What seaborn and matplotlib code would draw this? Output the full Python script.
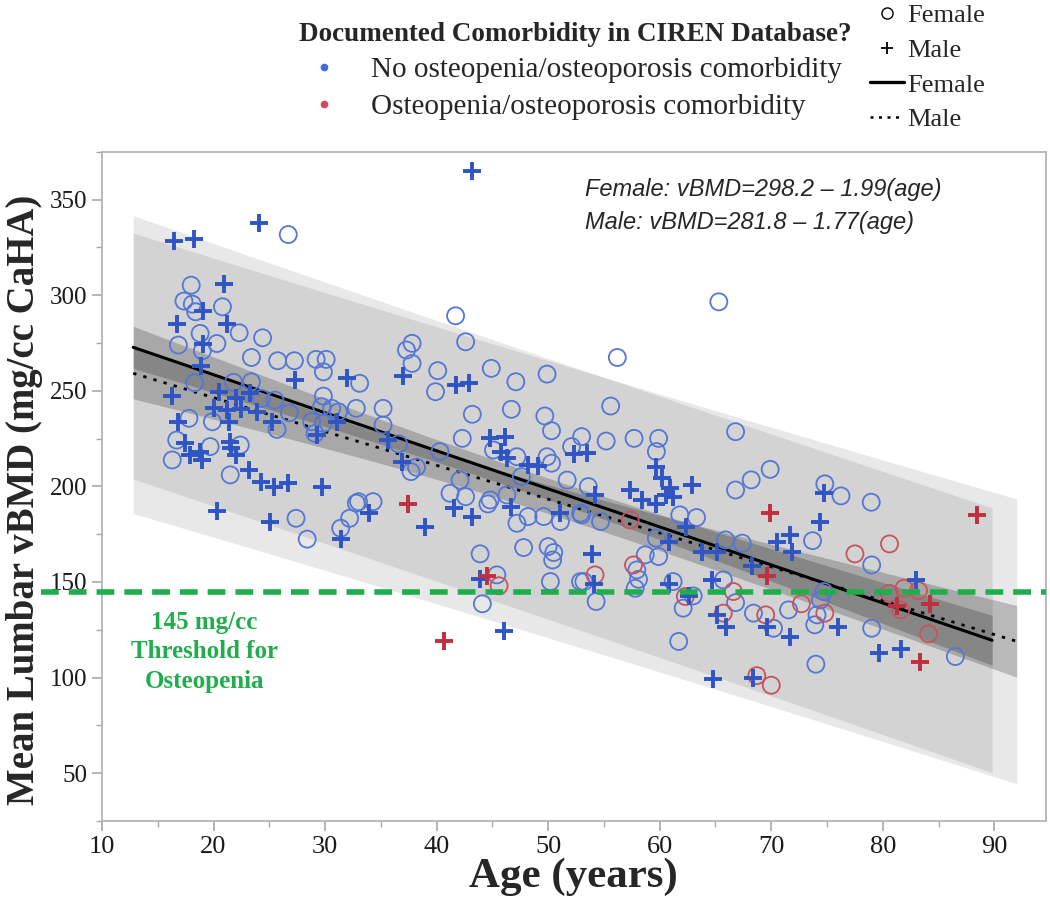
import numpy as np
import pandas as pd
import matplotlib
matplotlib.use("Agg")
import matplotlib.pyplot as plt
import seaborn as sns
from matplotlib.lines import Line2D
from matplotlib.ticker import MultipleLocator

# ---- data ----------------------------------------------------------------
# female, no osteopenia comorbidity (blue circles)
fem_no_age = [26.7, 18.0, 17.35, 18.1, 18.4, 20.8, 22.3, 24.4, 18.8, 16.85, 20.3, 19.0, 23.4, 25.75,
              27.25, 29.2, 30.1, 29.85, 18.3, 21.8, 23.4, 29.85, 33.1,
              17.8, 19.9, 26.8, 25.7, 24.3, 25.5, 29.7, 30.6, 31.2, 28.8, 29.85, 29.1, 22.4, 16.7,
              16.3, 19.7, 21.5, 32.8, 27.4, 28.4, 32.2, 31.4,
              41.7, 42.6, 37.8, 37.3, 37.8, 40.1, 39.9, 44.9, 47.1, 49.9,
              35.2, 32.8, 43.2, 46.7, 49.7, 50.3, 35.2, 36.6, 42.3, 45.1, 47.2, 49.9, 50.3, 52.1,
              40.3, 37.7, 38.2, 42.1, 41.2, 42.6, 44.8, 44.6, 46.3, 47.6, 47.2, 48.2, 49.6, 51.1,
              51.7, 52.9, 33.0, 34.3, 43.9, 47.8, 50.0, 50.5, 50.4, 45.4, 50.2, 52.9, 44.1,
              65.3, 56.2,
              55.6, 53.0, 55.2, 57.7, 59.9, 59.7, 66.8, 69.9, 68.2, 66.8, 53.6, 53.0, 54.7, 61.8,
              63.3, 59.7, 65.9, 67.4, 58.7, 59.9, 57.95, 58.1, 57.8, 53.2, 54.3, 61.2, 65.7, 63.0,
              62.1, 66.8, 68.4, 70.2, 71.55, 61.7,
              74.8, 76.25, 78.96, 73.7, 79.0, 74.7, 74.4, 74.1, 73.9, 79.0, 74.0, 86.5]
fem_no_bmd = [331.7, 305.2, 296.9, 295.3, 291.3, 293.9, 280.3, 277.7, 280.0, 273.9, 274.7, 270.9, 267.4, 265.7,
              265.7, 266.4, 266.4, 259.9, 254.2, 254.4, 254.7, 247.2, 253.9,
              235.6, 233.8, 238.5, 229.8, 246.0, 245.1, 241.7, 240.8, 239.0, 233.8, 233.0, 227.7, 221.6, 224.2,
              213.8, 220.8, 206.0, 191.2, 183.3, 172.4, 183.3, 178.1,
              289.2, 275.6, 274.8, 271.3, 264.3, 260.5, 249.5, 261.7, 254.7, 258.7,
              240.8, 240.8, 237.7, 240.3, 236.8, 229.1, 232.1, 222.2, 225.1, 219.0, 215.5, 215.5, 212.1, 220.8,
              218.2, 207.7, 210.0, 203.3, 196.4, 194.6, 192.9, 190.8, 195.5, 205.1, 180.7, 184.2, 184.2, 181.6,
              203.3, 186.0, 192.0, 192.0, 164.7, 168.0, 168.5, 165.4, 161.5, 153.7, 150.2, 150.2, 138.6,
              296.5, 267.4,
              242.0, 226.0, 223.7, 225.1, 225.1, 218.2, 228.6, 208.9, 203.4, 198.1, 199.9, 185.1, 181.6, 185.1,
              183.7, 172.9, 172.0, 170.3, 164.2, 163.3, 156.3, 151.4, 146.7, 150.2, 139.8, 150.2, 151.1, 142.7,
              136.3, 139.2, 133.7, 125.8, 135.4, 118.9,
              201.3, 195.0, 191.7, 171.6, 158.9, 145.0, 140.6, 132.8, 127.6, 125.8, 107.0, 111.0]

# female, with osteopenia/osteoporosis comorbidity (red circles)
fem_yes_age = [45.6, 57.35, 57.65, 54.2, 62.3, 66.6, 65.7, 69.5, 77.5, 80.6, 80.6, 81.9, 83.2,
               81.6, 84.1, 72.7, 74.8, 68.7, 70.0]
fem_yes_bmd = [148.0, 182.4, 158.9, 153.7, 142.4, 145.0, 133.7, 132.8, 164.7, 169.9, 144.1, 146.7, 145.5,
               135.4, 122.9, 138.6, 133.7, 101.0, 96.0]

# male, no comorbidity (blue plus)
male_no_age = [16.5, 18.25, 24.1, 20.9, 19.1, 16.7, 21.2, 19.1, 18.9, 27.3, 32.0, 16.3, 20.5, 23.3,
               20.0, 21.2, 22.0, 22.5, 23.9, 21.4, 25.2, 16.85, 31.05, 29.25, 21.5, 17.4, 18.8, 17.9,
               19.0, 22.0, 21.6, 23.2, 24.3, 25.4, 26.7, 29.7, 20.3, 25.1, 31.4,
               43.2, 37.0, 41.7, 42.9,
               35.6, 44.8, 46.1, 45.8, 46.3, 48.2, 49.1, 52.3, 36.9, 46.7, 51.1, 33.9, 38.97, 41.6,
               43.2, 43.9, 46.0,
               53.5, 59.7, 60.2, 62.9, 60.9, 61.2, 60.6, 57.35, 58.4, 59.7, 54.2, 62.4, 60.8, 63.8,
               65.1, 70.5, 71.7, 71.9, 68.3, 53.9, 54.1, 60.8, 64.7, 62.6, 65.1, 65.9, 69.6, 71.7,
               74.7, 74.4, 83.0, 76.0, 64.8, 68.4, 79.7, 81.6]
male_no_bmd = [328.4, 329.6, 337.8, 305.7, 291.8, 284.9, 284.9, 274.7, 262.9, 255.6, 256.5, 247.2, 249.5, 248.6,
               240.8, 239.9, 246.0, 240.3, 239.0, 233.8, 233.8, 233.8, 233.8, 226.9, 223.4, 222.5, 218.2, 216.4,
               213.8, 216.4, 219.9, 208.6, 202.5, 199.9, 201.6, 199.5, 187.3, 181.1, 172.4,
               365.0, 257.7, 253.0, 253.9,
               224.2, 225.1, 225.6, 218.2, 214.7, 211.2, 210.7, 216.9, 212.9, 189.1, 186.3, 185.9, 178.9, 188.9,
               184.2, 151.4, 124.6,
               217.3, 210.0, 204.2, 200.7, 199.0, 194.6, 195.5, 198.1, 192.9, 190.8, 195.5, 179.0, 171.1, 165.9,
               165.9, 171.1, 174.6, 165.9, 158.1, 164.7, 149.0, 149.0, 151.1, 142.4, 132.8, 126.7, 126.4, 121.1,
               196.4, 181.1, 150.8, 126.7, 99.0, 100.0, 113.0, 115.0]

# male, with comorbidity (red plus)
male_yes_age = [37.4, 44.5, 40.7, 69.9, 69.6, 88.4, 81.3, 84.2, 83.3]
male_yes_bmd = [190.8, 153.2, 118.9, 185.9, 153.2, 185.1, 137.2, 138.6, 108.0]

# regression fits (from the annotation) and band parameters
fem_fit = (298.2, -1.99)
male_fit = (281.8, -1.77)
fem_age_range = (12.8, 89.8)
male_age_range = (12.8, 92.0)
fem_band = dict(n=150, s=34.5, mean_age=47.0, sd_age=20.0)
male_band = dict(n=100, s=36.6, mean_age=44.0, sd_age=20.0)
t_crit = 1.97
threshold = 145

x_ticks = [10, 20, 30, 40, 50, 60, 70, 80, 90]
y_ticks = [50, 100, 150, 200, 250, 300, 350]

BLUE = "#2f55c4"
BLUE_O = "#5477d6"
RED = "#bf2f3d"
RED_O = "#c8535e"
GREEN = "#1fae4b"

sns.set_style("white")
plt.rcParams["font.family"] = ["Liberation Serif", "DejaVu Serif"]

fig = plt.figure(figsize=(10.5, 9), dpi=100)
ax = fig.add_axes([0.0971, 0.0878, 0.8988, 0.7436])


def draw_fit(fit, rng, band):
    b0, b1 = fit
    xs = np.linspace(rng[0], rng[1], 200)
    yhat = b0 + b1 * xs
    sxx = band["n"] * band["sd_age"] ** 2
    lev = 1.0 / band["n"] + (xs - band["mean_age"]) ** 2 / sxx
    pi = t_crit * band["s"] * np.sqrt(1 + lev)
    ci = t_crit * band["s"] * np.sqrt(lev)
    ax.fill_between(xs, yhat - pi, yhat + pi, color="black", alpha=0.09, lw=0, zorder=1)
    ax.fill_between(xs, yhat - ci, yhat + ci, color="black", alpha=0.2, lw=0, zorder=2)
    return xs, yhat


xf, yf = draw_fit(fem_fit, fem_age_range, fem_band)
xm, ym = draw_fit(male_fit, male_age_range, male_band)
sns.lineplot(x=xf, y=yf, color="black", lw=2.2, ax=ax, zorder=3)
sns.lineplot(x=xm, y=ym, color="black", lw=2.0, ls=(0, (1.2, 2.6)), ax=ax, zorder=3)

sns.scatterplot(x=fem_no_age, y=fem_no_bmd, marker="o", s=150, facecolor="none",
                edgecolor=BLUE_O, linewidth=1.3, ax=ax, zorder=4)
sns.scatterplot(x=fem_yes_age, y=fem_yes_bmd, marker="o", s=150, facecolor="none",
                edgecolor=RED_O, linewidth=1.3, ax=ax, zorder=4)
sns.scatterplot(x=male_no_age, y=male_no_bmd, marker="+", s=170, color=BLUE,
                linewidth=2.8, ax=ax, zorder=5)
sns.scatterplot(x=male_yes_age, y=male_yes_bmd, marker="+", s=170, color=RED,
                linewidth=2.8, ax=ax, zorder=5)

# threshold line
ax.plot([4.5, 94.6], [threshold, threshold], color=GREEN, lw=4, ls=(0, (3.2, 1.8)),
        clip_on=False, zorder=6)
ax.text(19.2, 113.5, "145 mg/cc\nThreshold for\nOsteopenia", color=GREEN, fontsize=18,
        fontweight="bold", ha="center", va="center", linespacing=1.35, zorder=7)

ax.text(53.3, 355.5, "Female: vBMD=298.2 \u2013 1.99(age)", fontsize=17, style="italic",
        family=["Liberation Sans", "DejaVu Sans"], va="center", ha="left")
ax.text(53.3, 338.0, "Male: vBMD=281.8 \u2013 1.77(age)", fontsize=17, style="italic",
        family=["Liberation Sans", "DejaVu Sans"], va="center", ha="left")

ax.set_xlim(10, 94.6)
ax.set_ylim(25, 375)
ax.set_xticks(x_ticks)
ax.set_yticks(y_ticks)
ax.xaxis.set_minor_locator(MultipleLocator(5))
ax.yaxis.set_minor_locator(MultipleLocator(25))
ax.tick_params(which="major", direction="out", length=7, width=1.2, color="#a8a8a8",
               labelsize=18, labelcolor="#1a1a1a", left=True, bottom=True)
ax.tick_params(axis="x", which="major", labelsize=19)
ax.tick_params(which="minor", direction="out", length=4, width=1.0, color="#a8a8a8",
               left=True, bottom=True)
for sp in ax.spines.values():
    sp.set_color("#b4b4b4")
    sp.set_linewidth(1.3)

ax.set_xlabel("Age (years)", fontsize=31, fontweight="bold", labelpad=0)
ax.set_ylabel("Mean Lumbar vBMD (mg/cc CaHA)", fontsize=28, fontweight="bold")
ax.yaxis.set_label_coords(-0.062, 0.48)

# legends above the plot
left_handles = [Line2D([], [], ls="none", marker="o", ms=4.5, color="#3b6fe0"),
                Line2D([], [], ls="none", marker="o", ms=4.5, color="#d24a5a")]
fig.legend(left_handles, ["No osteopenia/osteoporosis comorbidity",
                          "Osteopenia/osteoporosis comorbidity"],
           loc="upper center", bbox_to_anchor=(0.548, 1.005), frameon=False,
           fontsize=21, title="Documented Comorbidity in CIREN Database?",
           title_fontproperties={"weight": "bold", "size": 19.5},
           handletextpad=1.1, handlelength=1.0, labelspacing=0.35, alignment="center")

right_handles = [Line2D([], [], ls="none", marker="o", ms=8, mfc="none", mec="black", mew=1.0),
                 Line2D([], [], ls="none", marker="+", ms=9, color="black", mew=1.3),
                 Line2D([], [], color="black", lw=2.4),
                 Line2D([], [], color="black", lw=1.8, ls=(0, (1.2, 2.2)))]
fig.legend(right_handles, ["Female", "Male", "Female", "Male"], loc="upper left",
           bbox_to_anchor=(0.806, 1.022), frameon=False, fontsize=19, handlelength=1.3,
           handletextpad=0.1, labelspacing=0.42)

fig.savefig("out.png", dpi=100)
